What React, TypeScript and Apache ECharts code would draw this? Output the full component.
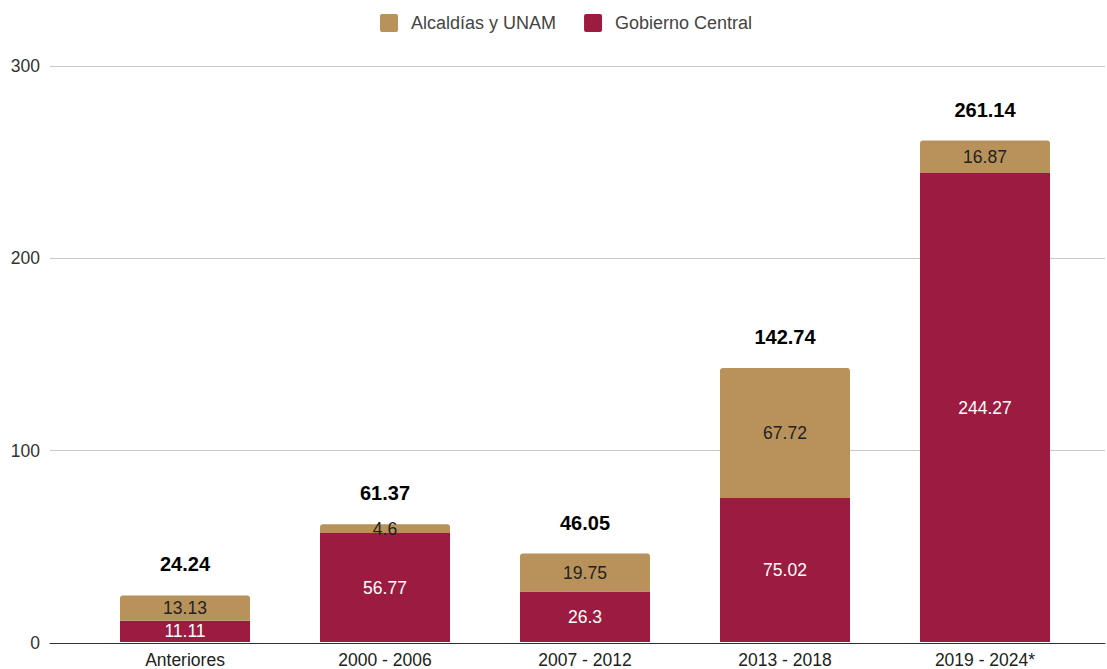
import React, { useEffect, useRef } from "react";
import * as echarts from "echarts";

const categories = ["Anteriores", "2000 - 2006", "2007 - 2012", "2013 - 2018", "2019 - 2024*"];
const gobiernoCentral = [11.11, 56.77, 26.3, 75.02, 244.27];
const alcaldiasUnam = [13.13, 4.6, 19.75, 67.72, 16.87];
const totals = [24.24, 61.37, 46.05, 142.74, 261.14];
const yTicks = [0, 100, 200, 300];

const RED = "#9b1c40";
const TAN = "#b8925a";
const FONT = "'Liberation Sans', Arial, sans-serif";

export default function App() {
  const ref = useRef<HTMLDivElement>(null);
  useEffect(() => {
    if (!ref.current) return;
    const chart = echarts.init(ref.current, undefined, { renderer: "svg" });
    chart.setOption({
      animation: false,
      textStyle: { fontFamily: FONT },
      legend: {
        top: 9,
        left: 375,
        icon: "path://M2,0 L16,0 Q18,0 18,2 L18,16 Q18,18 16,18 L2,18 Q0,18 0,16 L0,2 Q0,0 2,0 Z",
        itemWidth: 18,
        itemHeight: 18,
        itemGap: 28,
        textStyle: { fontFamily: FONT, fontSize: 18, color: "#444", padding: [0, 0, 0, 8] },
        data: ["Alcaldías y UNAM", "Gobierno Central"],
      },
      grid: [
        { left: 85, right: 22, top: 66, bottom: 26 },
        { left: 50, right: 2, top: 66, bottom: 26 },
      ],
      xAxis: [
        {
          type: "category",
          gridIndex: 0,
          data: categories,
          axisTick: { show: false },
          axisLine: { show: false },
          axisLabel: { fontFamily: FONT, fontSize: 17.5, color: "#222", margin: 9 },
        },
        {
          type: "value",
          gridIndex: 1,
          show: true,
          axisLabel: { show: false },
          axisTick: { show: false },
          splitLine: { show: false },
          axisLine: { show: true, onZero: true, lineStyle: { color: "#333", width: 1 } },
        },
      ],
      yAxis: [
        {
          type: "value",
          gridIndex: 0,
          min: 0,
          max: yTicks[yTicks.length - 1],
          interval: 100,
          show: false,
        },
        {
          type: "value",
          gridIndex: 1,
          min: 0,
          max: yTicks[yTicks.length - 1],
          interval: 100,
          axisLine: { show: false },
          axisTick: { show: false },
          axisLabel: { fontFamily: FONT, fontSize: 17.5, color: "#333", margin: 10 },
          splitLine: { lineStyle: { color: "#c8c8c8", width: 1 } },
        },
      ],
      series: [
        {
          name: "Gobierno Central",
          type: "bar",
          stack: "a",
          xAxisIndex: 0,
          yAxisIndex: 0,
          barWidth: 130,
          data: gobiernoCentral,
          itemStyle: { color: RED },
          label: {
            show: true,
            position: "inside",
            color: "#fff",
            fontFamily: FONT,
            fontSize: 17.5,
          },
        },
        {
          name: "Alcaldías y UNAM",
          type: "bar",
          stack: "a",
          xAxisIndex: 0,
          yAxisIndex: 0,
          barWidth: 130,
          data: alcaldiasUnam,
          itemStyle: { color: TAN, borderRadius: [3, 3, 0, 0] },
          label: {
            show: true,
            position: "inside",
            color: "#222",
            fontFamily: FONT,
            fontSize: 17.5,
          },
        },
        {
          name: "Total",
          type: "scatter",
          xAxisIndex: 0,
          yAxisIndex: 0,
          data: totals,
          symbolSize: 2,
          itemStyle: { color: "rgba(0,0,0,0)" },
          silent: true,
          z: 10,
          label: {
            show: true,
            position: "top",
            distance: 20,
            color: "#000",
            opacity: 1,
            fontFamily: FONT,
            fontSize: 20,
            fontWeight: "bold",
          },
        },
        {
          type: "line",
          xAxisIndex: 1,
          yAxisIndex: 1,
          data: [],
        },
      ],
    });
    return () => chart.dispose();
  }, []);
  return <div ref={ref} style={{ width: 1107, height: 669, position: "absolute", left: 0, top: 0 }} />;
}
